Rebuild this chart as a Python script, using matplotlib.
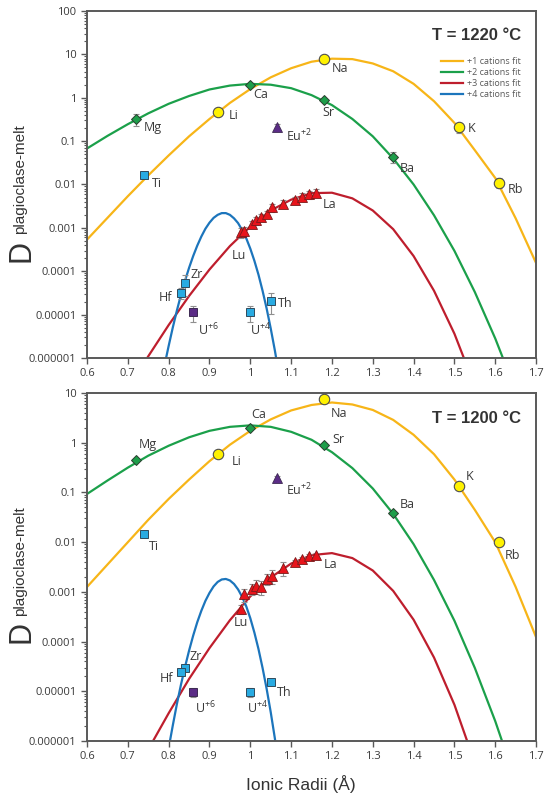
import matplotlib.pyplot as plt
import numpy as np

plt.rcParams['font.family'] = ['Open Sans', 'DejaVu Sans']
plt.rcParams['mathtext.fontset'] = 'custom'
plt.rcParams['mathtext.rm'] = 'Open Sans'

# ionic radii (Å)
r1 = [0.92, 1.18, 1.51, 1.61]            # Li Na K Rb
r2 = [0.72, 1.00, 1.18, 1.35]            # Mg Ca Sr Ba
r_eu = [1.066]                           # Eu+2
r_ree = [0.977, 0.985, 1.004, 1.015, 1.027, 1.040, 1.053, 1.079, 1.109, 1.126, 1.143, 1.160]
r4 = [0.74, 0.84, 0.83, 1.05, 1.00]      # Ti Zr Hf Th U+4
r_u6 = [0.86]

# partition coefficients, 1220 C
d1_1220 = [0.47, 7.8, 0.21, 0.011]
d2_1220 = [0.32, 2.0, 0.89, 0.044]
eu_1220 = [0.21]
ree_1220 = [7.9e-4, 8.5e-4, 1.23e-3, 1.48e-3, 1.78e-3, 2.08e-3, 2.97e-3, 3.6e-3, 4.35e-3, 5.2e-3, 5.9e-3, 6.5e-3]
d4_1220 = [0.0166, 5.4e-5, 3.2e-5, 2.1e-5, 1.15e-5]
u6_1220 = [1.15e-5]
# relative errors
e1_1220 = [0.1, 0.05, 0.25, 0.25]
e2_1220 = [0.3, 0.05, 0.05, 0.3]
eeu_1220 = [0.15]
eree_1220 = [0.25, 0.2, 0.2, 0.2, 0.2, 0.2, 0.2, 0.2, 0.2, 0.2, 0.2, 0.2]
e4_1220 = [0.15, 0.5, 0.3, 0.5, 0.4]
eu6_1220 = [0.4]

# partition coefficients, 1200 C
d1_1200 = [0.59, 7.6, 0.135, 0.010]
d2_1200 = [0.45, 1.98, 0.90, 0.0385]
eu_1200 = [0.20]
ree_1200 = [4.5e-4, 8.9e-4, 1.15e-3, 1.32e-3, 1.25e-3, 1.8e-3, 2.1e-3, 3.05e-3, 3.98e-3, 4.5e-3, 5.25e-3, 5.5e-3]
d4_1200 = [0.0146, 2.95e-5, 2.45e-5, 1.55e-5, 9.5e-6]
u6_1200 = [9.5e-6]
e1_1200 = [0.05, 0.05, 0.05, 0.05]
e2_1200 = [0.05, 0.05, 0.05, 0.05]
eeu_1200 = [0.05]
eree_1200 = [0.2, 0.3, 0.25, 0.3, 0.3, 0.25, 0.3, 0.3, 0.1, 0.1, 0.1, 0.1]
e4_1200 = [0.1, 0.1, 0.1, 0.15, 0.2]
eu6_1200 = [0.2]

# fit curves, log10(D)
fr1 = [0.60, 0.65, 0.70, 0.75, 0.80, 0.85, 0.90, 0.95, 1.00, 1.05, 1.10, 1.15,
       1.20, 1.25, 1.30, 1.35, 1.40, 1.45, 1.50, 1.55, 1.60, 1.65, 1.70]
fr2 = fr1[:-1]
fr3_1220 = fr1[2:-3]
fr3_1200 = fr1[3:-3]
fr4_1220 = [0.78, 0.79, 0.80, 0.81, 0.82, 0.83, 0.84, 0.85, 0.86, 0.87, 0.88, 0.89, 0.90,
            0.91, 0.92, 0.93, 0.94, 0.95, 0.96, 0.97, 0.98, 0.99, 1.00, 1.01, 1.02, 1.03,
            1.04, 1.05, 1.06, 1.07, 1.08]
fr4_1200 = fr4_1220[1:]

f1_1220 = [-3.27, -2.77, -2.27, -1.79, -1.33, -0.89, -0.49, -0.12, 0.20, 0.47, 0.68, 0.83,
           0.90, 0.89, 0.79, 0.61, 0.32, -0.08, -0.58, -1.21, -1.85, -2.78, -3.81]
f2_1220 = [-1.17, -0.88, -0.61, -0.36, -0.14, 0.04, 0.19, 0.28, 0.32, 0.30, 0.22, 0.06,
           -0.17, -0.49, -0.89, -1.40, -2.00, -2.71, -3.53, -4.48, -5.55, -6.75]
f3_1220 = [-6.71, -5.96, -5.24, -4.57, -3.96, -3.42, -2.97, -2.60, -2.35, -2.20, -2.19,
           -2.32, -2.60, -3.03, -3.65, -4.45, -5.44, -6.65]
f4_1220 = [-6.63, -6.16, -5.72, -5.30, -4.91, -4.55, -4.22, -3.92, -3.65, -3.41, -3.20,
           -3.02, -2.88, -2.77, -2.70, -2.66, -2.66, -2.70, -2.78, -2.89, -3.05, -3.24,
           -3.48, -3.76, -4.08, -4.45, -4.86, -5.32, -5.82, -6.37, -6.97]

f1_1200 = [-2.90, -2.45, -2.00, -1.55, -1.13, -0.74, -0.37, -0.04, 0.24, 0.47, 0.65, 0.76,
           0.81, 0.77, 0.66, 0.46, 0.16, -0.23, -0.74, -1.35, -2.00, -2.90, -3.91]
f2_1200 = [-1.03, -0.76, -0.50, -0.26, -0.06, 0.11, 0.24, 0.32, 0.35, 0.32, 0.22, 0.06,
           -0.19, -0.51, -0.92, -1.43, -2.04, -2.76, -3.58, -4.53, -5.60, -6.80]
f3_1200 = [-6.17, -5.44, -4.75, -4.13, -3.57, -3.09, -2.71, -2.43, -2.26, -2.22, -2.32,
           -2.57, -2.98, -3.56, -4.32, -5.27, -6.44]
f4_1200 = [-6.62, -6.14, -5.69, -5.26, -4.87, -4.51, -4.18, -3.88, -3.61, -3.38, -3.18,
           -3.02, -2.89, -2.80, -2.75, -2.74, -2.77, -2.84, -2.95, -3.10, -3.29, -3.53,
           -3.82, -4.15, -4.53, -4.95, -5.42, -5.94, -6.51, -7.13]

# element labels: (text, group, index, dx, dy, ha) offsets in pixels
labels_1220 = [('Mg', 2, 0, 8, -8, 'left'), ('Li', 1, 0, 11, -4, 'left'),
               ('Ca', 2, 1, 3, -10, 'left'), ('Na', 1, 1, 8, -9, 'left'),
               ('Sr', 2, 2, -1, -13, 'left'), ('Eu$^{+2}$', 'eu', 0, 9, -9, 'left'),
               ('K', 1, 2, 9, -1, 'left'), ('Ba', 2, 3, 7, -12, 'left'),
               ('Rb', 1, 3, 8, -7, 'left'), ('Ti', 4, 0, 8, -9, 'left'),
               ('La', 'ree', 11, 7, -12, 'left'), ('Lu', 'ree', 0, -9, -23, 'left'),
               ('Zr', 4, 1, 5, 8, 'left'), ('Hf', 4, 2, -9, -5, 'right'),
               ('U$^{+6}$', 'u6', 0, 5, -18, 'left'), ('U$^{+4}$', 4, 4, 0, -18, 'left'),
               ('Th', 4, 3, 7, -3, 'left')]
labels_1200 = [('Mg', 2, 0, 3, 15, 'left'), ('Li', 1, 0, 14, -7, 'left'),
               ('Ca', 2, 1, 1, 14, 'left'), ('Na', 1, 1, 7, -15, 'left'),
               ('Sr', 2, 2, 9, 6, 'left'), ('Eu$^{+2}$', 'eu', 0, 9, -12, 'left'),
               ('K', 1, 2, 7, 9, 'left'), ('Ba', 2, 3, 7, 9, 'left'),
               ('Rb', 1, 3, 5, -13, 'left'), ('Ti', 4, 0, 5, -12, 'left'),
               ('La', 'ree', 11, 8, -9, 'left'), ('Lu', 'ree', 0, -7, -13, 'left'),
               ('Zr', 4, 1, 4, 11, 'left'), ('Hf', 4, 2, -8, -7, 'right'),
               ('U$^{+6}$', 'u6', 0, 2, -16, 'left'), ('U$^{+4}$', 4, 4, -3, -16, 'left'),
               ('Th', 4, 3, 6, -11, 'left')]

panels = [
    dict(title='T = 1220 °C', ymax=100, d1=d1_1220, d2=d2_1220, eu=eu_1220, ree=ree_1220,
         d4=d4_1220, u6=u6_1220, e1=e1_1220, e2=e2_1220, eeu=eeu_1220, eree=eree_1220,
         e4=e4_1220, eu6=eu6_1220, f1=f1_1220, f2=f2_1220, f3=f3_1220, f4=f4_1220,
         fr3=fr3_1220, fr4=fr4_1220, labels=labels_1220, rect=[0.160, 0.5497, 0.8254, 0.4365],
         legend=True),
    dict(title='T = 1200 °C', ymax=10, d1=d1_1200, d2=d2_1200, eu=eu_1200, ree=ree_1200,
         d4=d4_1200, u6=u6_1200, e1=e1_1200, e2=e2_1200, eeu=eeu_1200, eree=eree_1200,
         e4=e4_1200, eu6=eu6_1200, f1=f1_1200, f2=f2_1200, f3=f3_1200, f4=f4_1200,
         fr3=fr3_1200, fr4=fr4_1200, labels=labels_1200, rect=[0.160, 0.0679, 0.8254, 0.4377],
         legend=False),
]

c1, c2, c3, c4 = '#F7B518', '#1BA04A', '#BE1E2D', '#1C75BC'
spine_c = '#595959'
text_c = '#3a3a3a'

fig = plt.figure(figsize=(5.44, 7.95), dpi=100)

for p in panels:
    ax = fig.add_axes(p['rect'])
    ax.set_yscale('log')

    ax.plot(fr1, 10 ** np.array(p['f1']), color=c1, lw=1.6, label='+1 cations fit', zorder=2)
    ax.plot(fr2, 10 ** np.array(p['f2']), color=c2, lw=1.6, label='+2 cations fit', zorder=2)
    ax.plot(p['fr3'], 10 ** np.array(p['f3']), color=c3, lw=1.6, label='+3 cations fit', zorder=2)
    ax.plot(p['fr4'], 10 ** np.array(p['f4']), color=c4, lw=1.6, label='+4 cations fit', zorder=2)

    groups = {1: (r1, p['d1'], p['e1']), 2: (r2, p['d2'], p['e2']), 'eu': (r_eu, p['eu'], p['eeu']),
              'ree': (r_ree, p['ree'], p['eree']), 4: (r4, p['d4'], p['e4']),
              'u6': (r_u6, p['u6'], p['eu6'])}
    for k, (x, y, e) in groups.items():
        ax.errorbar(x, y, yerr=np.array(y) * np.array(e), fmt='none', ecolor='#8f8f8f',
                    elinewidth=0.8, capsize=2, capthick=0.8, zorder=3)

    ax.plot(r1, p['d1'], 'o', ms=7.5, mfc='#FFF200', mec='#4d4d4d', mew=0.8, zorder=4)
    ax.plot(r2, p['d2'], 'D', ms=5.5, mfc='#1E9E4A', mec='#2b3d2f', mew=0.7, zorder=4)
    ax.plot(r_eu, p['eu'], '^', ms=7, mfc='#5B2C86', mec='#3d2a52', mew=0.6, zorder=4)
    ax.plot(r_ree, p['ree'], '^', ms=7.5, mfc='#E8141B', mec='#7a1a1a', mew=0.6, zorder=4)
    ax.plot(r4, p['d4'], 's', ms=5.5, mfc='#29ABE2', mec='#2f4a5c', mew=0.7, zorder=4)
    ax.plot(r_u6, p['u6'], 's', ms=5.5, mfc='#5B2C86', mec='#3d2a52', mew=0.7, zorder=4)

    for txt, g, i, dx, dy, ha in p['labels']:
        x, y, _ = groups[g]
        ax.annotate(txt, (x[i], y[i]), xytext=(dx, dy), textcoords='offset pixels',
                    ha=ha, va='center', fontsize=9, color=text_c, zorder=5)

    ax.set_xlim(0.6, 1.7)
    ax.set_ylim(1e-6, p['ymax'])
    xt = np.round(np.arange(0.6, 1.71, 0.1), 1)
    ax.set_xticks(xt)
    ax.set_xticklabels(['1' if v == 1 else f'{v:g}' for v in xt])
    yt = [10.0 ** k for k in range(-6, int(np.log10(p['ymax'])) + 1)]
    ax.set_yticks(yt)
    ax.set_yticklabels([f'{v:.6f}'.rstrip('0').rstrip('.') if v < 1 else f'{v:g}' for v in yt])
    ax.yaxis.set_minor_locator(plt.matplotlib.ticker.LogLocator(base=10, subs=np.arange(2, 10), numticks=20))
    ax.yaxis.set_minor_formatter(plt.matplotlib.ticker.NullFormatter())
    ax.tick_params(which='major', direction='out', length=4, width=1, color=spine_c,
                   labelsize=8, labelcolor=text_c)
    ax.tick_params(which='minor', direction='out', length=2, width=0.8, color=spine_c)
    for s in ax.spines.values():
        s.set_color(spine_c)
        s.set_linewidth(1.4)

    ax.text(0.967, 0.928, p['title'], transform=ax.transAxes, ha='right', va='center',
            fontsize=12, fontweight='bold', family='Liberation Sans', color='#333333')
    if p['legend']:
        ax.legend(loc='upper left', bbox_to_anchor=(0.77, 0.89), frameon=False, fontsize=6.5,
                  labelcolor='#595959', handlelength=2.4, handletextpad=0.5, labelspacing=0.2)

# y axis labels
for yb, ys in [(262, 234), (643, 616)]:
    fig.text(21 / 544, 1 - yb / 795, 'D', rotation=90, ha='center', va='bottom',
             fontsize=22, family='Liberation Sans', color='#333333')
    fig.text(20 / 544, 1 - ys / 795, 'plagioclase-melt', rotation=90, ha='center', va='bottom',
             fontsize=11, family='Liberation Sans', color='#333333')

fig.text(301 / 544, 1 - 784 / 795, 'Ionic Radii (Å)', ha='center', va='center',
         fontsize=12.5, family='Liberation Sans', color='#333333')

fig.savefig('out.png', dpi=100)
